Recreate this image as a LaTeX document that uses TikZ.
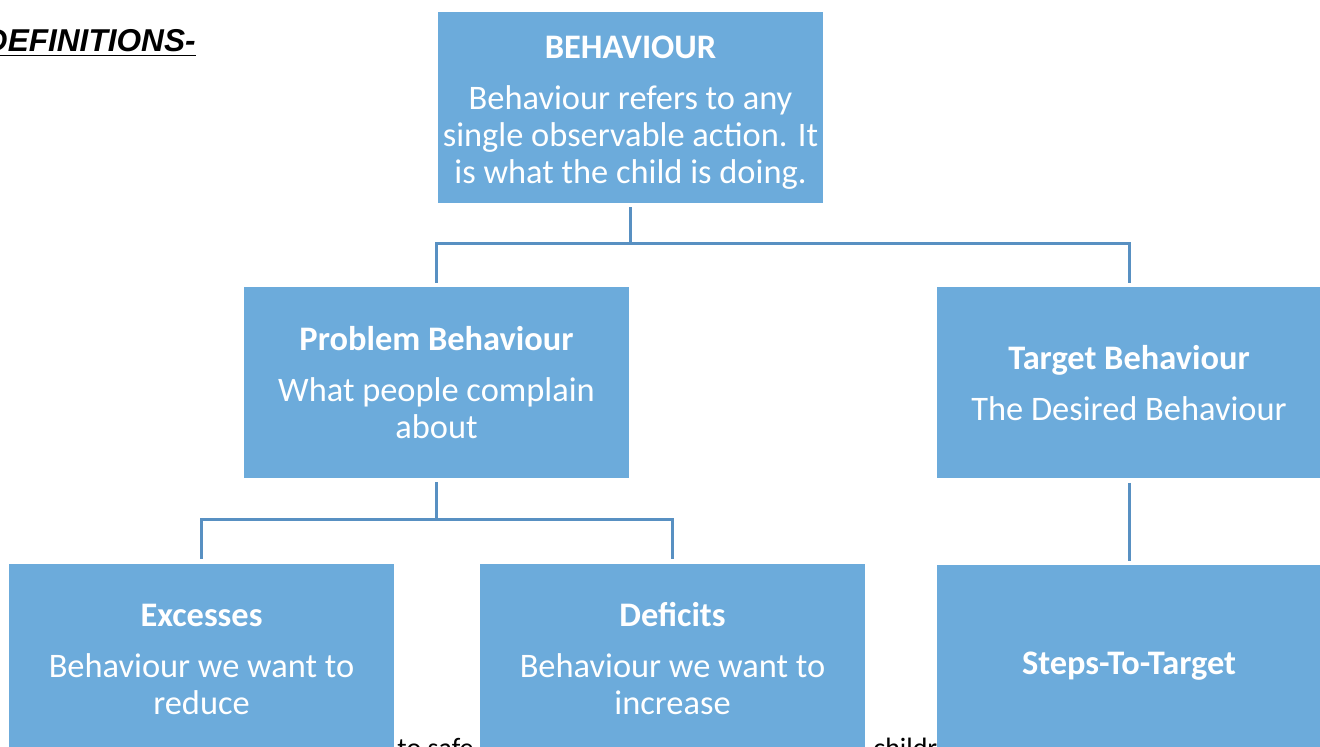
\documentclass[tikz,border=0pt]{standalone}
\usepackage{fontspec}
\setmainfont{Carlito}
\newfontfamily\headfont{Liberation Sans}
\usetikzlibrary{calc}
\definecolor{boxblue}{RGB}{108,171,219}
\definecolor{lineblue}{RGB}{88,144,194}
\tikzset{
	box/.style={fill=boxblue, text=white, minimum width=192.5pt, minimum height=95.5pt,
		inner sep=0pt, align=center, font=\fontsize{17.2}{18.5}\selectfont},
	link/.style={draw=lineblue, line width=1.5pt, shorten <=2pt, shorten >=2pt},
	pagetext/.style={anchor=base west, inner sep=0pt, font=\fontsize{14}{17}\selectfont}
}
\newcommand{\boxtitle}[1]{\textbf{#1}\\[7pt]}

\begin{document}
\begin{tikzpicture}[x=0.5pt, y=-0.5pt]
		%%%%% START %%%%%
		\useasboundingbox (0,0) rectangle (1320,747);
		\clip (0,0) rectangle (1320,747);
		
		\node[anchor=base east, inner sep=0pt, font=\headfont\bfseries\itshape\fontsize{15.8}{18}\selectfont] (defs) at (196,52) {\underline{DEFINITIONS-}};
		
		\node[pagetext] (safe) at (397,757) {to safe};
		\node[pagetext] (childr) at (873,757) {childr};
		
		\node[box] (beh) at (630.5,107.5) {\rule{0pt}{16.5pt}\boxtitle{BEHAVIOUR}Behaviour refers to any\\ single observable action. It\\ is what the child is doing.};
		
		\node[box] (prob) at (436.5,382.5) {\boxtitle{Problem Behaviour}What people complain\\ about};
		\node[box] (targ) at (1129,383) {\boxtitle{Target Behaviour}The Desired Behaviour};
		
		\node[box] (exc) at (201.5,659) {\boxtitle{Excesses}Behaviour we want to\\ reduce};
		\node[box] (def) at (672.5,659) {\boxtitle{Deficits}Behaviour we want to\\ increase};
		\node[box] (steps) at (1129,660.5) {\rule{0pt}{16.5pt}\textbf{Steps-To-Target}};
		
		\draw[link] (beh.south) -- ++(0,40) -| (prob.north);
		\draw[link] (beh.south) -- ++(0,40) -| (targ.north);
		
		\draw[link] (prob.south) -- ++(0,41) -| (exc.north);
		\draw[link] (prob.south) -- ++(0,41) -| (def.north);
		
		\draw[link] (targ.south) -- (steps.north);
		%%%%% END %%%%%
\end{tikzpicture}
\end{document}
